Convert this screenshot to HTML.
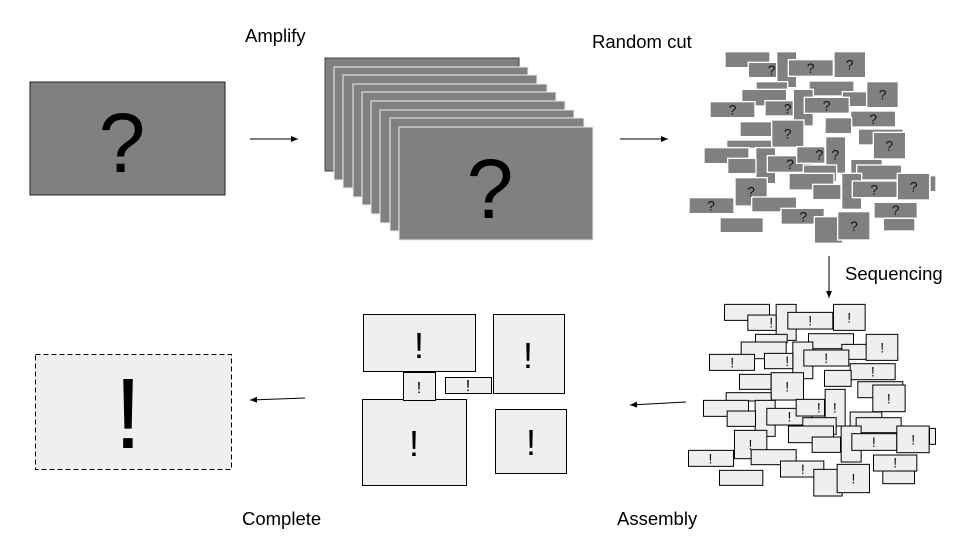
<!DOCTYPE html>
<html><head><meta charset="utf-8"><style>
html,body{margin:0;padding:0;background:#fff;}
svg{display:block;font-family:"Liberation Sans",sans-serif;}
</style></head><body>
<svg width="960" height="540" viewBox="0 0 960 540" xmlns="http://www.w3.org/2000/svg">
<defs>
<marker id="ah" markerWidth="8" markerHeight="8" refX="7" refY="4" orient="auto" markerUnits="userSpaceOnUse"><path d="M0,1 L7,4 L0,7 z" fill="#000"/></marker>
<g id="cl">
<rect x="120" y="20" width="135" height="48"/>
<rect x="275" y="20" width="60" height="108"/>
<rect x="190" y="52" width="85" height="46"/>
<rect x="310" y="44" width="135" height="50"/>
<rect x="447" y="20" width="95" height="78"/>
<rect x="213" y="110" width="95" height="25"/>
<rect x="372" y="108" width="135" height="45"/>
<rect x="170" y="133" width="135" height="50"/>
<rect x="325" y="133" width="60" height="110"/>
<rect x="75" y="170" width="135" height="48"/>
<rect x="240" y="167" width="85" height="46"/>
<rect x="472" y="140" width="75" height="45"/>
<rect x="358" y="157" width="135" height="48"/>
<rect x="545" y="110" width="95" height="78"/>
<rect x="497" y="198" width="135" height="48"/>
<rect x="420" y="218" width="80" height="48"/>
<rect x="165" y="230" width="95" height="45"/>
<rect x="260" y="225" width="97" height="82"/>
<rect x="125" y="285" width="135" height="25"/>
<rect x="57" y="308" width="135" height="48"/>
<rect x="212" y="308" width="60" height="108"/>
<rect x="128" y="340" width="85" height="46"/>
<rect x="247" y="332" width="135" height="50"/>
<rect x="335" y="305" width="85" height="50"/>
<rect x="422" y="275" width="60" height="110"/>
<rect x="520" y="252" width="135" height="48"/>
<rect x="565" y="262" width="97" height="80"/>
<rect x="355" y="360" width="100" height="50"/>
<rect x="312" y="385" width="135" height="50"/>
<rect x="497" y="343" width="95" height="45"/>
<rect x="515" y="360" width="135" height="45"/>
<rect x="150" y="398" width="97" height="85"/>
<rect x="12" y="458" width="135" height="48"/>
<rect x="200" y="456" width="135" height="45"/>
<rect x="383" y="418" width="85" height="46"/>
<rect x="470" y="385" width="60" height="108"/>
<rect x="735" y="392" width="18" height="48"/>
<rect x="502" y="408" width="135" height="50"/>
<rect x="637" y="385" width="97" height="80"/>
<rect x="567" y="472" width="130" height="48"/>
<rect x="595" y="520" width="95" height="38"/>
<rect x="105" y="518" width="130" height="45"/>
<rect x="288" y="490" width="130" height="48"/>
<rect x="388" y="515" width="85" height="80"/>
<rect x="458" y="500" width="97" height="85"/>
</g>
</defs>

<rect x="30" y="82" width="195" height="113" fill="#808080" stroke="#222" stroke-width="1"/>
<text x="122" y="172" font-size="84" text-anchor="middle" fill="#000">?</text>

<g fill="#808080" stroke="#eee" stroke-width="1">
<rect x="325" y="58" width="194" height="113" stroke="#444"/>
<rect x="334" y="67" width="194" height="113"/>
<rect x="343" y="75" width="194" height="113"/>
<rect x="353" y="84" width="194" height="113"/>
<rect x="362" y="92" width="194" height="113"/>
<rect x="371" y="101" width="194" height="113"/>
<rect x="380" y="110" width="194" height="113"/>
<rect x="390" y="118" width="194" height="113"/>
<rect x="399" y="127" width="194" height="113"/>
</g>
<text x="490" y="218" font-size="84" text-anchor="middle" fill="#000">?</text>

<g transform="translate(685,45) scale(0.3333)">
<g fill="#808080" stroke="#fff" stroke-width="4"><use href="#cl"/></g>
<g font-size="42" text-anchor="middle" fill="#111">
<text x="260" y="90">?</text><text x="377" y="84">?</text><text x="494" y="74">?</text><text x="143" y="209">?</text><text x="308" y="205">?</text><text x="425" y="196">?</text><text x="593" y="164">?</text><text x="565" y="237">?</text><text x="308" y="281">?</text><text x="315" y="372">?</text><text x="403" y="344">?</text><text x="451" y="344">?</text><text x="613" y="317">?</text><text x="198" y="455">?</text><text x="78" y="497">?</text><text x="568" y="448">?</text><text x="686" y="440">?</text><text x="632" y="510">?</text><text x="355" y="529">?</text><text x="507" y="558">?</text>
</g>
</g>

<g transform="translate(684.5,297.7) scale(0.3333)">
<g fill="#efefef" stroke="#000" stroke-width="3"><use href="#cl"/></g>
<g font-size="42" text-anchor="middle" fill="#111">
<text x="260" y="90">!</text><text x="377" y="84">!</text><text x="494" y="74">!</text><text x="143" y="209">!</text><text x="308" y="205">!</text><text x="425" y="196">!</text><text x="593" y="164">!</text><text x="565" y="237">!</text><text x="308" y="281">!</text><text x="315" y="372">!</text><text x="403" y="344">!</text><text x="451" y="344">!</text><text x="613" y="317">!</text><text x="198" y="455">!</text><text x="78" y="497">!</text><text x="568" y="448">!</text><text x="686" y="440">!</text><text x="632" y="510">!</text><text x="355" y="529">!</text><text x="507" y="558">!</text>
</g>
</g>

<g fill="#efefef" stroke="#000" stroke-width="1">
<rect x="363.5" y="314.5" width="112" height="57"/>
<rect x="493.5" y="314.5" width="71" height="79"/>
<rect x="362.5" y="399.5" width="104" height="86"/>
<rect x="495.5" y="409.5" width="71" height="64"/>
<rect x="403.5" y="372.5" width="32" height="28"/>
<rect x="445.5" y="377.5" width="46" height="16"/>
</g>
<g text-anchor="middle" fill="#000">
<text x="419" y="358" font-size="36">!</text>
<text x="528" y="368" font-size="36">!</text>
<text x="414" y="456" font-size="36">!</text>
<text x="531" y="455" font-size="36">!</text>
<text x="419" y="393" font-size="16">!</text>
<text x="468" y="391" font-size="16">!</text>
</g>

<rect x="35.5" y="354.5" width="196" height="115" fill="#efefef" stroke="#000" stroke-width="1" stroke-dasharray="5,3"/>
<text x="128" y="448" font-size="100" text-anchor="middle" fill="#000">!</text>

<g stroke="#000" stroke-width="1" fill="none" marker-end="url(#ah)">
<line x1="250" y1="139" x2="298" y2="139"/>
<line x1="620" y1="139" x2="668" y2="139"/>
<line x1="829" y1="256" x2="829" y2="298"/>
<line x1="686" y1="402" x2="630" y2="405"/>
<line x1="305" y1="398" x2="250" y2="400"/>
</g>

<g font-size="18.5" fill="#000">
<text x="245" y="42">Amplify</text>
<text x="592" y="48">Random cut</text>
<text x="845" y="280">Sequencing</text>
<text x="617" y="525">Assembly</text>
<text x="242" y="525">Complete</text>
</g>
</svg>
</body></html>
